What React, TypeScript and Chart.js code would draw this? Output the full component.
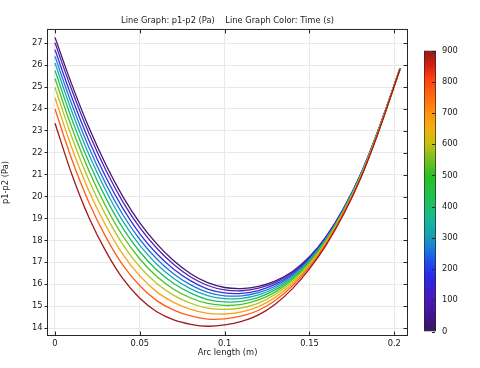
import React, { useEffect, useRef } from 'react';
import { Chart, registerables } from 'chart.js';

Chart.register(...registerables);

// ---- data ----
const arcLength = [0, 0.01, 0.02, 0.03, 0.04, 0.05, 0.06, 0.07, 0.08, 0.09, 0.1, 0.11, 0.12, 0.13, 0.14, 0.15, 0.16, 0.17, 0.18, 0.19, 0.2034];
const times = [0, 90, 180, 270, 360, 450, 540, 630, 720, 810, 900];

const pT0 = [27.27, 25.10, 23.15, 21.45, 20.00, 18.80, 17.84, 17.07, 16.48, 16.07, 15.85, 15.80, 15.90, 16.15, 16.58, 17.25, 18.20, 19.45, 21.00, 22.93, 25.86];
const pT90 = [27.02, 24.84, 22.89, 21.20, 19.76, 18.58, 17.64, 16.90, 16.33, 15.94, 15.74, 15.70, 15.82, 16.08, 16.53, 17.22, 18.18, 19.43, 20.99, 22.92, 25.86];
const pT180 = [26.70, 24.51, 22.56, 20.88, 19.46, 18.30, 17.39, 16.68, 16.15, 15.78, 15.60, 15.58, 15.71, 16.00, 16.47, 17.17, 18.14, 19.41, 20.97, 22.91, 25.85];
const pT270 = [26.40, 24.19, 22.24, 20.57, 19.17, 18.04, 17.15, 16.47, 15.97, 15.63, 15.47, 15.47, 15.61, 15.92, 16.41, 17.13, 18.11, 19.39, 20.96, 22.90, 25.85];
const pT360 = [26.10, 23.87, 21.92, 20.27, 18.88, 17.77, 16.91, 16.26, 15.79, 15.48, 15.34, 15.35, 15.51, 15.84, 16.35, 17.09, 18.08, 19.37, 20.94, 22.89, 25.85];
const pT450 = [25.76, 23.52, 21.57, 19.93, 18.56, 17.48, 16.65, 16.03, 15.59, 15.30, 15.19, 15.22, 15.40, 15.75, 16.28, 17.04, 18.05, 19.34, 20.92, 22.88, 25.84];
const pT540 = [25.39, 23.13, 21.18, 19.55, 18.20, 17.15, 16.35, 15.77, 15.37, 15.12, 15.03, 15.08, 15.28, 15.65, 16.21, 16.99, 18.01, 19.32, 20.90, 22.87, 25.84];
const pT630 = [24.98, 22.70, 20.75, 19.14, 17.81, 16.79, 16.03, 15.49, 15.13, 14.91, 14.85, 14.92, 15.14, 15.54, 16.12, 16.93, 17.97, 19.29, 20.88, 22.85, 25.83];
const pT720 = [24.51, 22.21, 20.26, 18.67, 17.36, 16.38, 15.65, 15.17, 14.85, 14.67, 14.64, 14.74, 14.98, 15.41, 16.03, 16.86, 17.93, 19.25, 20.86, 22.84, 25.83];
const pT810 = [24.00, 21.68, 19.73, 18.15, 16.87, 15.93, 15.25, 14.82, 14.55, 14.41, 14.42, 14.55, 14.81, 15.27, 15.93, 16.79, 17.87, 19.22, 20.83, 22.82, 25.82];
const pT900 = [23.35, 21.00, 19.05, 17.50, 16.25, 15.36, 14.74, 14.37, 14.17, 14.08, 14.14, 14.30, 14.60, 15.10, 15.80, 16.70, 17.81, 19.17, 20.80, 22.80, 25.81];

const series = [pT0, pT90, pT180, pT270, pT360, pT450, pT540, pT630, pT720, pT810, pT900];
const lineColors = ['#45186c', '#5222b4', '#2f34e2', '#2176da', '#17aab0', '#1cbf5c', '#49c226', '#b4c41a', '#f5a418', '#ff5c14', '#a3191b'];

const xTicks = [0, 0.05, 0.1, 0.15, 0.2];
const xTickLabels = ['0', '0.05', '0.1', '0.15', '0.2'];
const yTicks = [14, 15, 16, 17, 18, 19, 20, 21, 22, 23, 24, 25, 26, 27];

const colorbarTicks = [0, 100, 200, 300, 400, 500, 600, 700, 800, 900];
const colorbarStopPos = [0, 0.05, 0.11, 0.2, 0.25, 0.3, 0.34, 0.4, 0.45, 0.55, 0.62, 0.67, 0.72, 0.78, 0.85, 0.9, 0.95, 1];
const colorbarStopColors = ['#381858', '#40148a', '#4b16b8', '#2a2ae8', '#1e50f0', '#1a80d8', '#18a0b0', '#16b898', '#1ec068', '#26c022', '#80c020', '#c8c010', '#f0b010', '#ff9010', '#ff6010', '#ff4010', '#d02010', '#901818'];

const titleText = 'Line Graph: p1-p2 (Pa)    Line Graph Color: Time (s)';
const FONT = 'DejaVu Sans';
const FS = 8.3;
const TEXT = '#1a1a1a';

export default function App() {
  const mainRef = useRef<HTMLCanvasElement | null>(null);
  const barRef = useRef<HTMLCanvasElement | null>(null);

  useEffect(() => {
    const frame = {
      id: 'frameTicks',
      afterDatasetsDraw(chart: any) {
        const { ctx, chartArea, scales } = chart;
        const { left, right, top, bottom } = chartArea;
        ctx.save();
        ctx.strokeStyle = '#262626';
        ctx.lineWidth = 1;
        ctx.strokeRect(left, top, right - left, bottom - top);
        ctx.beginPath();
        scales.x.ticks.forEach((t: any) => {
          const px = Math.round(scales.x.getPixelForValue(t.value)) + 0.5;
          ctx.moveTo(px, top);
          ctx.lineTo(px, top + 4);
          ctx.moveTo(px, bottom);
          ctx.lineTo(px, bottom - 4);
        });
        scales.y.ticks.forEach((t: any) => {
          const py = Math.round(scales.y.getPixelForValue(t.value)) + 0.5;
          ctx.moveTo(right, py);
          ctx.lineTo(right - 4, py);
        });
        ctx.stroke();
        ctx.restore();
      },
    };

    const datasets = series
      .map((vals, i) => ({
        label: String(times[i]),
        data: vals.map((v, j) => ({ x: arcLength[j], y: v })),
        borderColor: lineColors[i],
        borderWidth: 1.3,
        pointRadius: 0,
        fill: false,
        tension: 0.4,
      }))
      .reverse();

    const main = new Chart(mainRef.current as HTMLCanvasElement, {
      type: 'line',
      data: { datasets },
      options: {
        animation: false,
        responsive: false,
        maintainAspectRatio: false,
        layout: { padding: { left: 0, right: 72.5, top: 0, bottom: 0 } },
        plugins: {
          legend: { display: false },
          tooltip: { enabled: false },
          title: {
            display: true,
            text: titleText,
            fullSize: false,
            color: TEXT,
            font: { family: FONT, size: FS, weight: 'normal' },
            padding: { top: 16, bottom: 3.5 },
          },
        },
        scales: {
          x: {
            type: 'linear',
            min: -0.00442,
            max: 0.20778,
            afterBuildTicks: (s: any) => {
              s.ticks = xTicks.map((v) => ({ value: v }));
            },
            afterFit: (s: any) => {
              s.height = 32.5;
            },
            grid: { color: '#e9e9e9', drawTicks: false },
            border: { display: false },
            ticks: {
              padding: 3,
              color: TEXT,
              font: { family: FONT, size: FS },
              callback: (v: any) => {
                const i = xTicks.findIndex((t) => Math.abs(t - Number(v)) < 1e-9);
                return i >= 0 ? xTickLabels[i] : '';
              },
            },
            title: {
              display: true,
              text: 'Arc length (m)',
              color: TEXT,
              font: { family: FONT, size: FS },
              padding: { top: 0, bottom: 10.3 },
            },
          },
          y: {
            type: 'linear',
            min: 13.658,
            max: 27.63,
            afterBuildTicks: (s: any) => {
              s.ticks = yTicks.map((v) => ({ value: v }));
            },
            afterFit: (s: any) => {
              s.width = 47.5;
            },
            grid: { color: '#e9e9e9', drawTicks: true, tickLength: 3, tickColor: '#262626' },
            border: { display: false },
            ticks: {
              padding: 2,
              color: TEXT,
              font: { family: FONT, size: FS },
              callback: (v: any) => String(v),
            },
            title: {
              display: true,
              text: 'p1-p2 (Pa)',
              color: TEXT,
              font: { family: FONT, size: FS },
              padding: { top: 1, bottom: 0 },
            },
          },
        },
      },
      plugins: [frame],
    });

    const barTicks = {
      id: 'barTicks',
      afterDatasetsDraw(chart: any) {
        const { ctx, chartArea, scales } = chart;
        ctx.save();
        ctx.strokeStyle = '#262626';
        ctx.lineWidth = 1;
        ctx.beginPath();
        scales.y.ticks.forEach((t: any) => {
          const py = Math.round(scales.y.getPixelForValue(t.value)) + 0.5;
          ctx.moveTo(chartArea.right - 1, py);
          ctx.lineTo(chartArea.right - 4, py);
        });
        ctx.stroke();
        ctx.restore();
      },
    };

    const bar = new Chart(barRef.current as HTMLCanvasElement, {
      type: 'bar',
      data: {
        labels: ['Time (s)'],
        datasets: [
          {
            data: [[colorbarTicks[0], colorbarTicks[colorbarTicks.length - 1]]],
            backgroundColor: (c: any) => {
              const area = c.chart.chartArea;
              if (!area) return '#888';
              const g = c.chart.ctx.createLinearGradient(0, area.bottom, 0, area.top);
              colorbarStopPos.forEach((p, i) => g.addColorStop(p, colorbarStopColors[i]));
              return g;
            },
            borderColor: '#262626',
            borderWidth: 1,
            borderSkipped: false,
            barPercentage: 1,
            categoryPercentage: 1,
          } as any,
        ],
      },
      options: {
        animation: false,
        responsive: false,
        maintainAspectRatio: false,
        layout: { padding: { left: 12, right: 0, top: 50.5, bottom: 36.5 } },
        plugins: { legend: { display: false }, tooltip: { enabled: false }, title: { display: false } },
        scales: {
          x: { display: false },
          y: {
            position: 'right',
            min: 0,
            max: 900,
            afterBuildTicks: (s: any) => {
              s.ticks = colorbarTicks.map((v) => ({ value: v }));
            },
            afterFit: (s: any) => {
              s.width = 44;
            },
            grid: { display: false, drawTicks: false },
            border: { display: false },
            ticks: {
              padding: 6,
              color: TEXT,
              font: { family: FONT, size: FS },
              callback: (v: any) => String(v),
            },
          },
        },
      },
      plugins: [barTicks],
    });

    return () => {
      main.destroy();
      bar.destroy();
    };
  }, []);

  return (
    <div style={{ position: 'fixed', left: 0, top: 0, width: 480, height: 368, background: '#fff' }}>
      <canvas ref={mainRef} width={480} height={368} style={{ position: 'absolute', left: 0, top: 0, width: 480, height: 368 }} />
      <canvas ref={barRef} width={68} height={368} style={{ position: 'absolute', left: 412, top: 0, width: 68, height: 368 }} />
    </div>
  );
}
